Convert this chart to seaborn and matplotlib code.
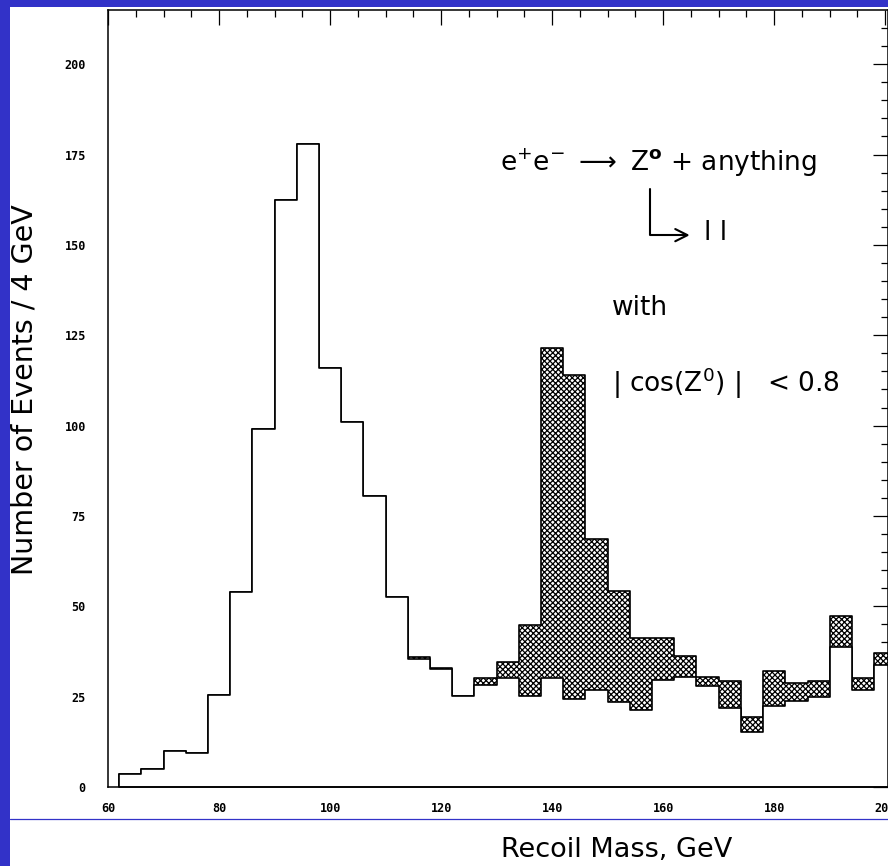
import numpy as np
import pandas as pd
import matplotlib
matplotlib.use("Agg")
import matplotlib.pyplot as plt
import seaborn as sns
from matplotlib.patches import Rectangle
from matplotlib.lines import Line2D

# Recoil-mass histogram, 4 GeV bins starting at 62 GeV
bin_start = 62
bin_width = 4
# total events per bin (signal + background)
events_total = [3.5, 5, 10, 9.5, 25.5, 54, 99, 162.5, 178, 116, 101, 80.5,
                52.5, 36, 33, 25.3, 30.2, 34.5, 44.8, 121.5, 114, 68.5, 54.3,
                41.1, 41.1, 36.2, 30.5, 29.3, 19.3, 32, 28.7, 29.4, 47.3,
                30.2, 37.2]
# background-only events per bin
events_background = [3.5, 5, 10, 9.5, 25.5, 54, 99, 162.5, 178, 116, 101,
                     80.5, 52.5, 35.5, 32.6, 25.3, 28.1, 30.2, 25.2, 30.2,
                     24.3, 26.8, 23.6, 21.3, 29.6, 30.3, 28.0, 21.8, 15.3,
                     22.4, 23.9, 24.8, 38.8, 26.8, 33.7]

x_major_ticks = [60, 80, 100, 120, 140, 160, 180, 200]
x_tick_labels = ["60", "80", "100", "120", "140", "160", "180", "200"]
y_major_ticks = [0, 25, 50, 75, 100, 125, 150, 175, 200]
y_tick_labels = ["0", "25", "50", "75", "100", "125", "150", "175", "200"]

n_bins = len(events_total)
edges = [float(bin_start + bin_width * i) for i in range(n_bins + 1)]
centers = [e + bin_width / 2 for e in edges[:-1]]
df = pd.DataFrame({"mass": centers, "total": events_total,
                   "background": events_background})

BLUE = "#3232c8"
W, H = 888, 866

sns.set_style("white")
plt.rcParams.update({
    "font.family": ["DejaVu Sans"],
    "hatch.linewidth": 0.9,
    "hatch.color": "black",
    "mathtext.fontset": "dejavusans",
    "text.color": "black",
    "axes.labelcolor": "black",
    "xtick.color": "black",
    "ytick.color": "black",
    "patch.edgecolor": "black",
})

fig = plt.figure(figsize=(W / 100, H / 100), dpi=100, facecolor=BLUE)
# white page with a thin blue rule near the bottom
fig.add_artist(Rectangle((10 / W, 0), 1 - 10 / W, 1 - 7 / H,
                         transform=fig.transFigure, facecolor="white",
                         edgecolor="none", zorder=-10))
fig.add_artist(Line2D([10 / W, 1], [1 - 819 / H] * 2, color=BLUE, lw=0.9,
                      zorder=-5))

ax = fig.add_axes([108 / W, 79 / H, 780 / W, 777 / H])
ax.set_facecolor("white")

# hatched total histogram, then the background histogram masks the part below it
sns.histplot(data=df, x="mass", weights="total", bins=edges, element="step",
             fill=True, facecolor="white", edgecolor="black", hatch="xxxxxx",
             linewidth=1.2, alpha=1, ax=ax)
sns.histplot(data=df, x="mass", weights="background", bins=edges,
             element="step", fill=True, facecolor="white", edgecolor="black",
             linewidth=1.2, alpha=1, ax=ax)

ax.set_xlim(60, 200.5)
ax.set_ylim(0, 215)
ax.set_xticks(x_major_ticks)
ax.set_xticklabels(x_tick_labels)
ax.set_xticks(np.arange(60, 201, 5), minor=True)
ax.set_yticks(y_major_ticks)
ax.set_yticklabels(y_tick_labels)
ax.set_yticks(np.arange(0, 211, 5), minor=True)
ax.tick_params(which="both", direction="in", top=True, right=True,
               color="black", width=0.9)
ax.tick_params(which="major", length=10.8)
ax.tick_params(which="minor", length=5)
ax.tick_params(axis="x", pad=11)
ax.tick_params(axis="y", pad=16)
for lab in ax.get_xticklabels() + ax.get_yticklabels():
    lab.set_family("DejaVu Sans Mono")
    lab.set_fontweight("bold")
    lab.set_fontsize(8.5)
for sp in ax.spines.values():
    sp.set_linewidth(1.1)
    sp.set_color("black")

ax.set_xlabel("Recoil Mass, GeV", fontsize=19.5)
ax.xaxis.set_label_coords((617 - 108) / 780, (787 - 850) / 777)
ax.xaxis.label.set_va("center")
ax.set_ylabel("Number of Events / 4 GeV", fontsize=20.5)
ax.yaxis.set_label_coords((25 - 108) / 780, (787 - 390) / 777)
ax.yaxis.label.set_va("center")

# process annotation
ax.text(130.7, 172.6, r"e$^{+}$e$^{-}$ $\longrightarrow$ Z$^{\mathbf{o}}$ + anything",
        fontsize=19, ha="left", va="center")
ax.annotate("", xy=(164.8, 152.7), xytext=(157.6, 165.5),
            arrowprops=dict(arrowstyle="->", lw=1.5, shrinkA=0, shrinkB=0,
                            color="black",
                            connectionstyle="angle,angleA=90,angleB=0,rad=0",
                            mutation_scale=22))
ax.text(167.4, 153.2, "l l", fontsize=19, ha="left", va="center")
ax.text(150.8, 132.5, "with", fontsize=19, ha="left", va="center")
ax.text(150.8, 111.8, r"| cos(Z$^{0}$) |   < 0.8", fontsize=19, ha="left",
        va="center")

fig.savefig("out.png", dpi=100, facecolor=BLUE)
